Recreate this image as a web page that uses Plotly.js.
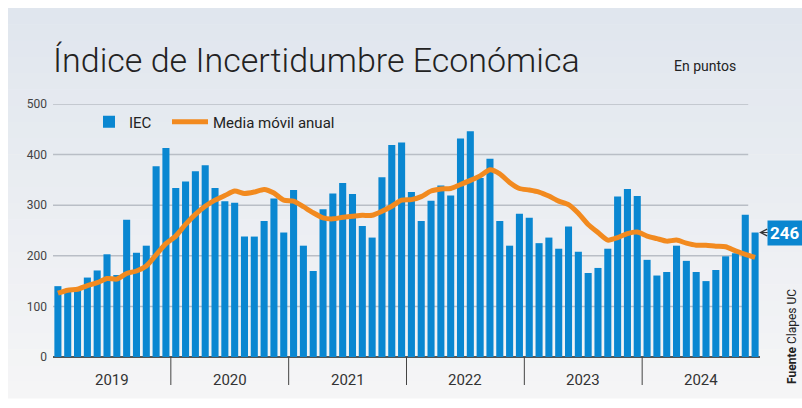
<!DOCTYPE html>
<html>
<head>
<meta charset="utf-8">
<script src="https://cdn.plot.ly/plotly-3.0.1.min.js"></script>
<style>html,body{margin:0;padding:0;background:#fff;}#chart{width:802px;height:408px;}</style>
</head>
<body>
<div id="chart"></div>
<script>
// ---- data ----
const years = ["2019", "2020", "2021", "2022", "2023", "2024"];
const monthNames = ["ene", "feb", "mar", "abr", "may", "jun", "jul", "ago", "sep", "oct", "nov", "dic"];
const iec = [
  140, 130, 132, 157, 171, 203, 162, 271, 206, 220, 377, 413,
  334, 347, 367, 379, 334, 308, 305, 238, 238, 269, 313, 246,
  330, 220, 170, 292, 323, 344, 322, 259, 236, 355, 419, 424,
  326, 269, 309, 339, 319, 432, 446, 354, 392, 269, 220, 283,
  275, 225, 236, 214, 258, 208, 166, 176, 214, 317, 332, 318,
  192, 161, 168, 220, 190, 168, 150, 172, 199, 205, 281, 246
];
const mediaMovil = [
  126, 132, 134, 141, 147, 155, 154, 165, 170, 180, 202, 224,
  239, 262, 282, 298, 310, 319, 328, 323, 326, 331, 324, 310,
  308, 297, 285, 275, 273, 276, 278, 280, 280, 288, 298, 310,
  311, 317, 328, 332, 333, 341, 349, 358, 370, 362, 345, 333,
  330, 326, 318, 308, 301, 284, 262, 246, 231, 236, 244, 247,
  239, 234, 229, 231, 225, 221, 221, 219, 218, 210, 203, 197
];
const yTicks = [0, 100, 200, 300, 400, 500];
const categories = [];
years.forEach(y => monthNames.forEach(m => categories.push(m + " " + y)));

// ---- layout constants ----
const W = 802, H = 408;
const M = {l: 53, r: 42, t: 104, b: 51};
const PW = W - M.l - M.r, PH = H - M.t - M.b;
const px = x => (x - M.l) / PW;
const py = y => (H - M.b - y) / PH;
const FONT = "Roboto, 'Liberation Sans', sans-serif";

const shapes = [];
// background panel as gradient bands
const nBands = 24, panelTop = 8, panelBottom = 398;
const c0 = [224, 230, 238], c1 = [245, 245, 246];
for (let i = 0; i < nBands; i++) {
  const t = i / (nBands - 1);
  const c = c0.map((v, k) => Math.round(v + (c1[k] - v) * t));
  const y0 = panelTop + (panelBottom - panelTop) * i / nBands;
  const y1 = panelTop + (panelBottom - panelTop) * (i + 1) / nBands + 0.5;
  shapes.push({type: "rect", xref: "paper", yref: "paper", layer: "below",
    x0: px(8), x1: px(W + 2), y0: py(y1), y1: py(y0),
    fillcolor: `rgb(${c[0]},${c[1]},${c[2]})`, line: {width: 0}});
}
// gridlines
yTicks.filter(v => v > 0).forEach(v => shapes.push({type: "line", xref: "x", yref: "y", layer: "below",
  x0: -0.55, x1: 70.3, y0: v, y1: v, line: {color: "#b9bec6", width: 1.5}}));
// year separators
for (let i = 1; i < years.length; i++) {
  shapes.push({type: "line", xref: "x", yref: "paper", x0: i * 12 - 0.5, x1: i * 12 - 0.5,
    y0: 0, y1: py(385), line: {color: "#444", width: 1}});
}

const annotations = [];
years.forEach((y, i) => annotations.push({xref: "x", yref: "paper", x: i * 12 + 5.5, y: py(380),
  text: y, showarrow: false, font: {family: FONT, size: 15, color: "#333"}, yanchor: "middle"}));
annotations.push({xref: "paper", yref: "paper", x: px(672), y: py(66), xanchor: "left", yanchor: "middle",
  text: "En puntos", showarrow: false, font: {family: FONT, size: 14, color: "#222"}});
annotations.push({xref: "x", yref: "y", x: categories.length - 1, y: iec[iec.length - 1],
  text: "<b>" + iec[iec.length - 1] + "</b>", showarrow: true, ax: 30, ay: 0,
  arrowhead: 5, arrowsize: 1.3, arrowwidth: 1, arrowcolor: "#333", standoff: 4,
  bgcolor: "#0a86d0", borderpad: 2, font: {family: FONT, size: 17, color: "#fff"}});
annotations.push({xref: "paper", yref: "paper", x: px(792), y: py(337), textangle: -90,
  xanchor: "center", yanchor: "middle",
  text: "<b>Fuente</b> Clapes UC", showarrow: false, font: {family: FONT, size: 12, color: "#222"}});

const traces = [
  {type: "bar", name: "IEC", x: categories, y: iec, marker: {color: "#0a87d1"}, width: 0.72,
   hoverinfo: "x+y", legend: "legend"},
  {type: "scatter", mode: "lines", name: "Media móvil anual", x: categories, y: mediaMovil,
   line: {color: "#f28a1f", width: 5, shape: "spline", smoothing: 0.6}, legend: "legend2"}
];

const legendFont = {family: FONT, size: 15, color: "#222"};
const layout = {
  width: W, height: H, margin: M,
  paper_bgcolor: "#ffffff", plot_bgcolor: "rgba(0,0,0,0)",
  font: {family: FONT, color: "#333"},
  title: {text: "Índice de Incertidumbre Económica", xref: "container", yref: "container",
    x: 53 / W, xanchor: "left", y: 1 - 60 / H, yanchor: "middle",
    font: {family: FONT, size: 34, color: "#222", weight: 300}},
  showlegend: true,
  legend: {orientation: "h", x: px(89), y: py(122), xanchor: "left", yanchor: "middle",
    bgcolor: "rgba(0,0,0,0)", font: legendFont},
  legend2: {orientation: "h", x: px(167), y: py(122), xanchor: "left", yanchor: "middle",
    bgcolor: "rgba(0,0,0,0)", font: legendFont, itemwidth: 36},
  xaxis: {type: "category", range: [-0.5, categories.length - 0.5], showticklabels: false,
    showgrid: false, zeroline: false, ticks: "", showline: false, fixedrange: true},
  yaxis: {range: [0, 500], tickvals: yTicks, showgrid: false, zeroline: true, zerolinecolor: "#555",
    zerolinewidth: 1.5, ticks: "", tickfont: {family: FONT, size: 12, color: "#444"}, ticklabelstandoff: 5,
    fixedrange: true},
  bargap: 0.28,
  shapes: shapes, annotations: annotations
};

Plotly.newPlot("chart", traces, layout, {displayModeBar: false, staticPlot: true});
</script>
</body>
</html>
